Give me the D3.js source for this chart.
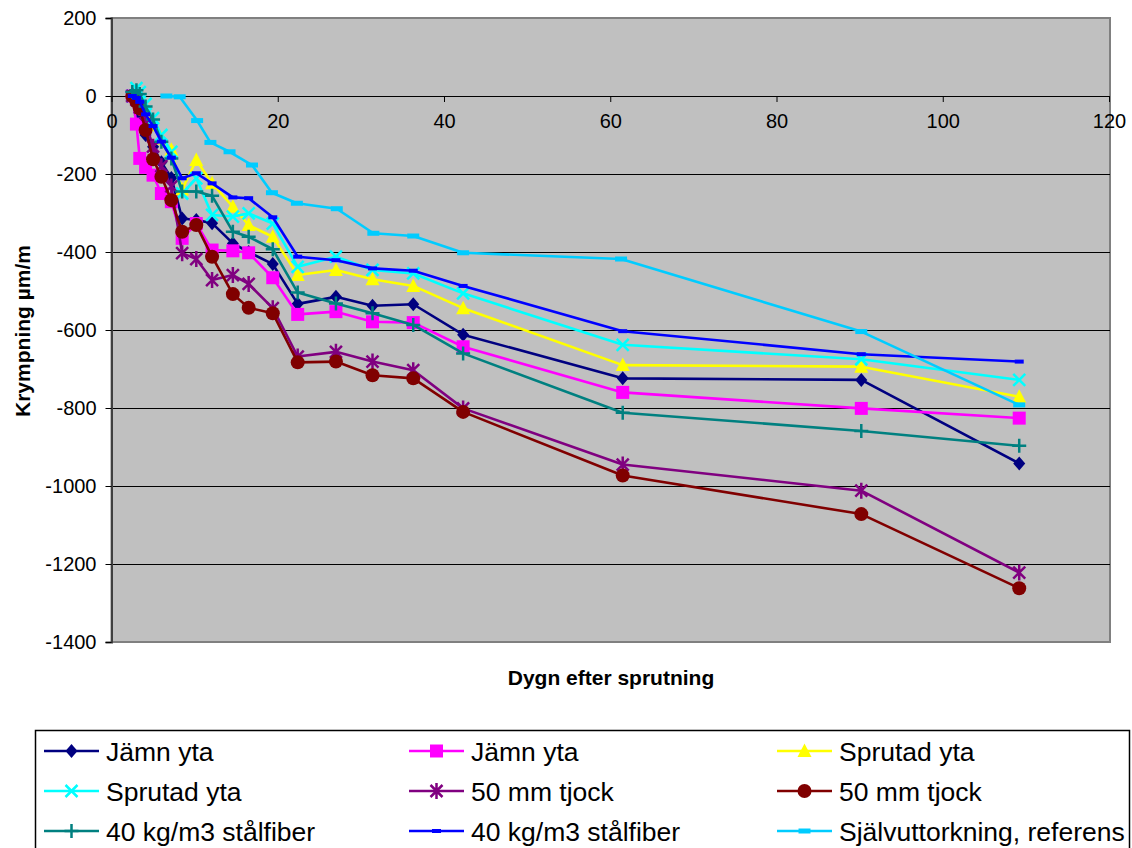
<!DOCTYPE html>
<html>
<head>
<meta charset="utf-8">
<script src="https://cdn.jsdelivr.net/npm/d3@7"></script>
<style>
  body { margin: 0; background: #fff; }
  text { font-family: Arial, "Liberation Sans", sans-serif; }
</style>
</head>
<body>
<script>
const width = 1132;
const height = 848;
const plot = { left: 111.5, right: 1109, top: 18, bottom: 642 };

// days after spraying (main series) and for the reference series
const days = [2.5, 3.0, 3.4, 4.1, 5.0, 6.0, 7.2, 8.5, 10.2, 12.1, 14.6, 16.5, 19.4, 22.4, 27.0, 31.4, 36.3, 42.3, 61.5, 90.2, 109.2];
const daysRef = [6.6, 8.2, 10.3, 11.9, 14.2, 16.9, 19.3, 22.3, 27.1, 31.5, 36.3, 42.3, 61.3, 90.2, 109.2];

// shrinkage µm/m
const jamnA  = [0, -20, -50, -100, -130, -170, -210, -314, -318, -326, -378, -400, -431, -533, -515, -538, -534, -612, -724, -728, -942];
const jamnB  = [0, -72, -160, -183, -203, -250, -271, -365, -327, -395, -397, -402, -466, -560, -553, -579, -581, -643, -760, -801, -826];
const sprutA = [0, 5, -10, -35, -75, -109, -138, -240, -164, -224, -284, -331, -361, -459, -446, -470, -487, -544, -690, -694, -771];
const sprutB = [0, 20, 10, -20, -57, -100, -143, -250, -211, -305, -309, -301, -327, -438, -412, -446, -455, -506, -638, -675, -728];
const tjockA = [0, -10, -30, -70, -130, -180, -232, -403, -418, -472, -459, -482, -544, -668, -656, -681, -703, -801, -945, -1012, -1222];
const tjockB = [0, -15, -32, -87, -162, -207, -267, -348, -331, -412, -508, -543, -557, -683, -681, -716, -724, -810, -973, -1072, -1262];
const fiberA = [10, 15, 5, -27, -60, -117, -160, -245, -245, -256, -348, -361, -393, -504, -532, -557, -587, -660, -812, -859, -897];
const fiberB = [0, -5, -15, -47, -77, -117, -158, -211, -198, -224, -260, -262, -311, -412, -421, -442, -448, -487, -603, -662, -681];
const referens = [0, -2, -63, -119, -143, -177, -248, -275, -289, -352, -359, -402, -418, -604, -792];

const xTicks = [0, 20, 40, 60, 80, 100, 120];
const yTicks = [200, 0, -200, -400, -600, -800, -1000, -1200, -1400];

const series = [
  { name: 'Jämn yta', x: days, y: jamnA, color: '#000080', marker: 'diamond' },
  { name: 'Jämn yta', x: days, y: jamnB, color: '#FF00FF', marker: 'square' },
  { name: 'Sprutad yta', x: days, y: sprutA, color: '#FFFF00', marker: 'triangle' },
  { name: 'Sprutad yta', x: days, y: sprutB, color: '#00FFFF', marker: 'x' },
  { name: '50 mm tjock', x: days, y: tjockA, color: '#800080', marker: 'asterisk' },
  { name: '50 mm tjock', x: days, y: tjockB, color: '#800000', marker: 'circle' },
  { name: '40 kg/m3 stålfiber', x: days, y: fiberA, color: '#008080', marker: 'plus' },
  { name: '40 kg/m3 stålfiber', x: days, y: fiberB, color: '#0000FF', marker: 'dash' },
  { name: 'Självuttorkning, referens', x: daysRef, y: referens, color: '#00CCFF', marker: 'dashBig' },
];

const markerPaths = {
  diamond: 'M0,-7L6,0L0,7L-6,0Z',
  square: 'M-6.5,-6.5h13v13h-13Z',
  triangle: 'M0,-7.5L7,6H-7Z',
  x: 'M-6,-6L6,6M6,-6L-6,6',
  asterisk: 'M-6,-6L6,6M6,-6L-6,6M0,-8V8',
  circle: d3.symbol(d3.symbolCircle, Math.PI * 49)(),
  plus: 'M-7,0H7M0,-7V7',
  dash: 'M-4.5,-2h9v4h-9Z',
  dashBig: 'M-6,-2.5h12v5h-12Z',
};
const strokeMarkers = ['x', 'asterisk', 'plus'];

const svg = d3.select('body').append('svg')
  .attr('width', width)
  .attr('height', height);

const xScale = d3.scaleLinear().domain([0, 120]).range([plot.left, plot.right]);
const yScale = d3.scaleLinear().domain([-1400, 200]).range([plot.bottom, plot.top]);

// plot area
svg.append('rect')
  .attr('x', plot.left)
  .attr('y', plot.top)
  .attr('width', plot.right - plot.left + 1)
  .attr('height', plot.bottom - plot.top)
  .attr('fill', '#C0C0C0')
  .attr('stroke', '#808080')
  .attr('stroke-width', 2);

// grid lines
svg.append('g').selectAll('line')
  .data(yTicks.filter(d => d !== 200 && d !== -1400 && d !== 0))
  .enter().append('line')
  .attr('x1', plot.left)
  .attr('x2', plot.right + 1)
  .attr('y1', d => Math.round(yScale(d)) + 0.5)
  .attr('y2', d => Math.round(yScale(d)) + 0.5)
  .attr('stroke', '#000')
  .attr('stroke-width', 1);

// y axis (plain hyphen for negatives, like the original)
const yAxis = svg.append('g')
  .attr('transform', 'translate(' + plot.left + ',0)')
  .call(d3.axisLeft(yScale).tickValues(yTicks).tickSize(6).tickPadding(9).tickFormat(d => String(d)));
yAxis.select('.domain').attr('stroke', '#404040').attr('stroke-width', 2);
yAxis.selectAll('.tick line').attr('stroke', '#000');
yAxis.selectAll('.tick text').attr('font-size', 20).attr('fill', '#000')
  .attr('font-family', 'Arial, "Liberation Sans", sans-serif');

// x axis crossing at zero
const xAxis = svg.append('g')
  .attr('transform', 'translate(0,' + yScale(0) + ')')
  .call(d3.axisBottom(xScale).tickValues(xTicks).tickSize(6).tickPadding(12).tickSizeOuter(0).tickFormat(d => String(d)));
xAxis.select('.domain').attr('stroke', '#000').attr('stroke-width', 1.2);
xAxis.selectAll('.tick line').attr('stroke', '#000');
xAxis.selectAll('.tick text').attr('font-size', 20).attr('fill', '#000')
  .attr('font-family', 'Arial, "Liberation Sans", sans-serif');

// axis titles
svg.append('text')
  .attr('x', 611)
  .attr('y', 685)
  .attr('text-anchor', 'middle')
  .attr('font-size', 21)
  .attr('font-weight', 'bold')
  .text('Dygn efter sprutning');

svg.append('text')
  .attr('transform', 'translate(30,' + 331 + ') rotate(-90)')
  .attr('text-anchor', 'middle')
  .attr('font-size', 21)
  .attr('font-weight', 'bold')
  .text('Krympning µm/m');

// lines and markers
const line = d3.line()
  .x(d => xScale(d[0]))
  .y(d => yScale(d[1]));

function drawMarker(g, type, color) {
  const stroked = strokeMarkers.indexOf(type) >= 0;
  g.append('path')
    .attr('d', markerPaths[type])
    .attr('fill', stroked ? 'none' : color)
    .attr('stroke', stroked ? color : 'none')
    .attr('stroke-width', stroked ? 2.5 : 0);
}

const chart = svg.append('g');
series.forEach(function(s) {
  const pts = s.x.map((d, i) => [d, s.y[i]]);
  const g = chart.append('g');
  g.append('path')
    .attr('d', line(pts))
    .attr('fill', 'none')
    .attr('stroke', s.color)
    .attr('stroke-width', 2.6)
    .attr('stroke-linejoin', 'round');
  g.selectAll('g.pt')
    .data(pts)
    .enter().append('g')
    .attr('class', 'pt')
    .attr('transform', d => 'translate(' + xScale(d[0]) + ',' + yScale(d[1]) + ')')
    .each(function() { drawMarker(d3.select(this), s.marker, s.color); });
});

// legend
const legend = svg.append('g');
legend.append('rect')
  .attr('x', 35.5)
  .attr('y', 730.5)
  .attr('width', 1094)
  .attr('height', 140)
  .attr('fill', '#fff')
  .attr('stroke', '#000')
  .attr('stroke-width', 1.5);

const colX = [44, 409, 777];
const rowY = [751, 791, 831];
series.forEach(function(s, i) {
  const g = legend.append('g')
    .attr('transform', 'translate(' + colX[i % 3] + ',' + rowY[Math.floor(i / 3)] + ')');
  g.append('line')
    .attr('x1', 0).attr('x2', 55)
    .attr('y1', 0).attr('y2', 0)
    .attr('stroke', s.color)
    .attr('stroke-width', 2.6);
  const m = g.append('g').attr('transform', 'translate(27.5,0)');
  drawMarker(m, s.marker, s.color);
  g.append('text')
    .attr('x', 62)
    .attr('y', 9.5)
    .attr('font-size', 26.5)
    .attr('fill', '#000')
    .text(s.name);
});
</script>
</body>
</html>
